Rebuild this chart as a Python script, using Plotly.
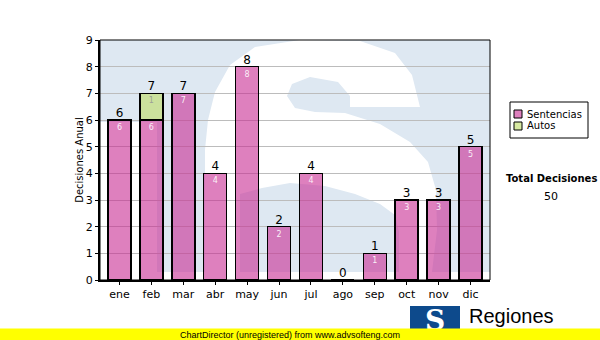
import plotly.graph_objects as go

# ---- data ----
meses = ["ene", "feb", "mar", "abr", "may", "jun", "jul", "ago", "sep", "oct", "nov", "dic"]
sentencias = [6, 6, 7, 4, 8, 2, 4, 0, 1, 3, 3, 5]
autos = [0, 1, 0, 0, 0, 0, 0, 0, 0, 0, 0, 0]
series_names = ["Sentencias", "Autos"]
totales = [s + a for s, a in zip(sentencias, autos)]
total_decisiones = sum(totales)

FONT = "DejaVu Sans"
PINK = "rgba(200,43,147,0.6)"
GREEN = "rgba(190,220,100,0.6)"

# plot area in page pixels: x 100..490, y 40..280
def P(X, Y):
    return (X - 100) / 390, (280 - Y) / 240

def path(pts):
    return "M " + " L ".join("%.4f,%.4f" % P(X, Y) for X, Y in pts) + " Z"

fig = go.Figure()

fig.add_trace(go.Bar(
    x=meses, y=sentencias, name=series_names[0],
    marker=dict(color=PINK, line=dict(color="black", width=1.5)),
    text=[str(v) if v > 0 else "" for v in sentencias],
    textposition="inside", insidetextanchor="end",
    textfont=dict(size=8, color="rgba(255,255,255,0.9)", family=FONT),
    hoverinfo="x+y",
))
fig.add_trace(go.Bar(
    x=meses, y=autos, name=series_names[1],
    marker=dict(color=GREEN, line=dict(color="black", width=1.5)),
    text=[str(v) if v > 0 else "" for v in autos],
    textposition="inside", insidetextanchor="end",
    textfont=dict(size=8, color="rgba(150,150,150,0.9)", family=FONT),
    hoverinfo="x+y",
))
fig.add_trace(go.Scatter(
    x=meses, y=totales, mode="text", text=[str(t) for t in totales],
    textposition="top center", textfont=dict(size=12, color="black", family=FONT),
    hoverinfo="skip", cliponaxis=False,
))

BLUE = "#dee8f2"
shapes = [
    # light blue watermark background with notch
    dict(type="path", xref="paper", yref="paper", layer="below", line=dict(width=0),
         fillcolor=BLUE,
         path=path([(100, 40), (490, 40), (490, 272), (157, 272), (157, 122), (100, 122)])),
    # white S
    dict(type="path", xref="paper", yref="paper", layer="below", line=dict(width=0),
         fillcolor="white",
         path=path([(205, 272), (205, 150), (208, 120), (215, 92), (230, 65), (255, 47), (300, 40),
                    (360, 41), (395, 53), (412, 75), (420, 107), (350, 107), (350, 96), (338, 82),
                    (310, 77), (292, 84), (287, 96), (295, 108), (315, 112), (345, 113), (380, 124),
                    (410, 142), (428, 162), (436, 190), (437, 230), (432, 272)])),
    # lower counter of S
    dict(type="path", xref="paper", yref="paper", layer="below", line=dict(width=0),
         fillcolor=BLUE,
         path=path([(240, 272), (240, 194), (262, 188), (290, 183), (325, 186), (355, 194),
                    (380, 204), (395, 215), (399, 232), (399, 272)])),
    # top / right border
    dict(type="rect", xref="paper", yref="paper", x0=0, x1=1, y0=0, y1=1,
         line=dict(color="black", width=1), layer="above"),
    # legend box
    dict(type="rect", xref="paper", yref="paper",
         x0=P(510, 0)[0], x1=P(588, 0)[0], y0=P(0, 102)[1], y1=P(0, 138)[1],
         fillcolor="white", line=dict(color="black", width=1), layer="above"),
    dict(type="rect", xref="paper", yref="paper",
         x0=P(514, 0)[0], x1=P(522, 0)[0], y0=P(0, 110)[1], y1=P(0, 118)[1],
         fillcolor=PINK, line=dict(color="black", width=1), layer="above"),
    dict(type="rect", xref="paper", yref="paper",
         x0=P(514, 0)[0], x1=P(522, 0)[0], y0=P(0, 122)[1], y1=P(0, 130)[1],
         fillcolor=GREEN, line=dict(color="black", width=1), layer="above"),
    # logo block
    dict(type="rect", xref="paper", yref="paper",
         x0=P(410, 0)[0], x1=P(460, 0)[0], y0=P(0, 306)[1], y1=P(0, 334)[1],
         fillcolor="#0d4a8c", line=dict(width=0), layer="above"),
]

def ann(X, Y, text, size, family=FONT, color="black", xanchor="center", **kw):
    x, _ = P(X, 0)
    _, y = P(0, Y)
    d = dict(xref="paper", yref="paper", x=x, y=y, text=text, showarrow=False,
             xanchor=xanchor, yanchor="middle",
             font=dict(size=size, color=color, family=family))
    d.update(kw)
    return d

annotations = [
    ann(525, 114, series_names[0], 10, xanchor="left"),
    ann(525, 126, series_names[1], 10, xanchor="left"),
    ann(551, 178, "<b>Total Decisiones</b>", 10),
    ann(551, 196, str(total_decisiones), 11),
    ann(435, 320, "<b>S</b>", 28, family="DejaVu Serif", color="white", borderpad=0),
    ann(467, 316, "Regiones", 20, family="Liberation Sans", xanchor="left"),
    ann(467, 333, "Tribunal Supremo de Justicia", 11, family="Liberation Sans", xanchor="left"),
    ann(300, 334.5, " ", 9, width=600, height=11, bgcolor="#ffff00", borderpad=0),
    ann(290, 334.5, "ChartDirector (unregistered) from www.advsofteng.com", 9,
        family="Liberation Sans"),
]

fig.update_layout(
    width=600, height=340,
    margin=dict(l=100, r=110, t=40, b=60, autoexpand=False),
    paper_bgcolor="white", plot_bgcolor="white",
    barmode="stack", bargap=0.28,
    showlegend=False,
    font=dict(family=FONT, size=11, color="black"),
    shapes=shapes, annotations=annotations,
    xaxis=dict(showline=True, linecolor="black", linewidth=2, ticks="outside", ticklen=3,
               tickcolor="black", showgrid=False, tickfont=dict(size=11)),
    yaxis=dict(range=[0, 9], dtick=1, showline=True, linecolor="black", linewidth=2,
               ticks="outside", ticklen=3, tickcolor="black", gridcolor="#bcbcbc", gridwidth=1,
               zeroline=False, tickfont=dict(size=11),
               title=dict(text="Decisiones Anual", font=dict(size=10), standoff=0)),
)

fig.write_html("out.html")
